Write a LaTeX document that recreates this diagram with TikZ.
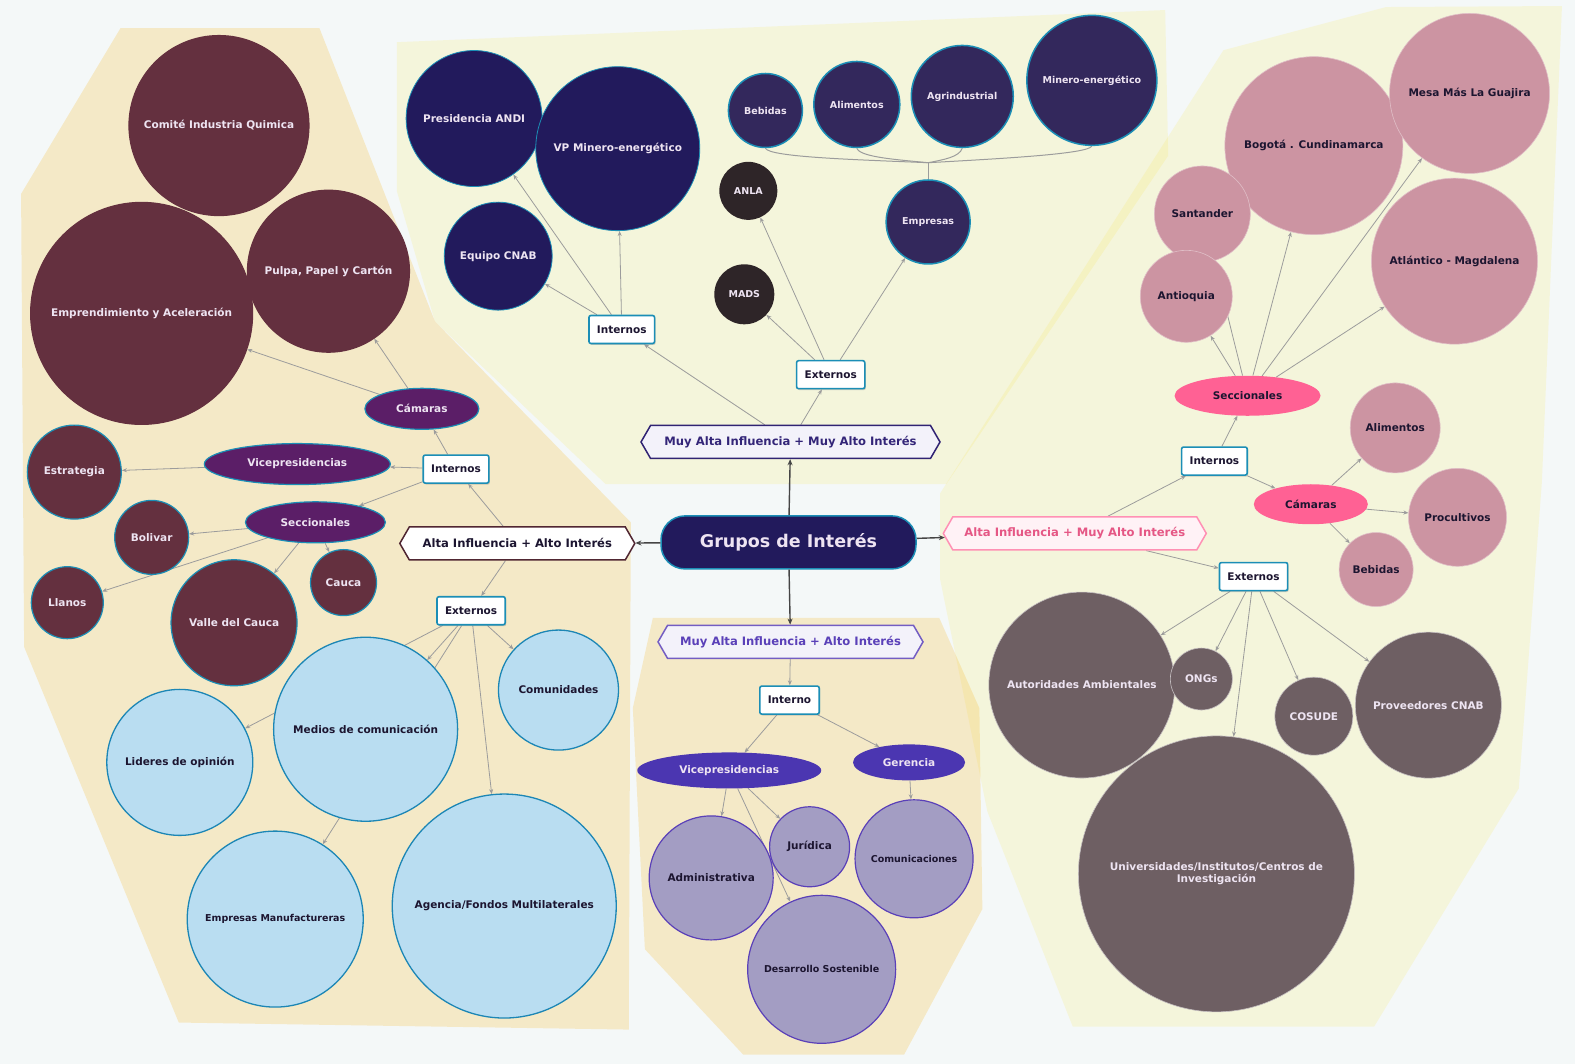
\documentclass[tikz,border=0pt]{standalone}
\usepackage{fontspec}
\setmainfont{DejaVu Sans}
\usetikzlibrary{arrows.meta,shapes.geometric,shapes.symbols,shadows,backgrounds}

\definecolor{bgc}{HTML}{F4F8F8}
\definecolor{sandp}{HTML}{FFF0CD}
\definecolor{creamp}{HTML}{FFFCE2}
\definecolor{navy}{HTML}{221A5C}
\definecolor{plum}{HTML}{33285C}
\definecolor{soot}{HTML}{2E2528}
\definecolor{wine}{HTML}{64303F}
\definecolor{grape}{HTML}{5B1E67}
\definecolor{sky}{HTML}{B9DDF1}
\definecolor{skyline}{HTML}{1C86B5}
\definecolor{lilac}{HTML}{A39DC3}
\definecolor{violetf}{HTML}{4B36B1}
\definecolor{violetl}{HTML}{5A40B8}
\definecolor{mauve}{HTML}{CC94A2}
\definecolor{rose}{HTML}{FF6194}
\definecolor{taupe}{HTML}{6E5F63}
\definecolor{tealb}{HTML}{1B8EB6}
\definecolor{linec}{HTML}{9C9C9C}
\definecolor{hubc}{HTML}{454545}
\definecolor{ink}{HTML}{1C1530}
\definecolor{paletxt}{HTML}{EEE4F2}

\pgfdeclarelayer{panels}
\pgfsetlayers{panels,background,main}

\tikzset{
  lbl/.style={font=\fontsize{10.5}{12.5}\selectfont\bfseries, align=center},
  slbl/.style={font=\fontsize{9.5}{11}\selectfont\bfseries, align=center},
  bub/.style={circle, inner sep=1pt, lbl},
  navyb/.style={bub, fill=navy, draw=tealb, line width=.8pt, text=paletxt},
  plumb/.style={bub, slbl, fill=plum, draw=tealb, line width=1.5pt, text=paletxt},
  sootb/.style={bub, slbl, fill=soot, text=paletxt},
  wineb/.style={bub, fill=wine, draw=tealb, line width=1.2pt, text=paletxt},
  skyb/.style={bub, fill=sky, draw=skyline, line width=1.3pt, text=ink},
  lilacb/.style={bub, fill=lilac, draw=violetl, line width=1.2pt, text=ink},
  mauveb/.style={bub, fill=mauve, draw=white!40!mauve, line width=.6pt, text=ink},
  taupeb/.style={bub, fill=taupe, draw=white!60!taupe, line width=.6pt, text=paletxt},
  oval/.style={ellipse, inner sep=0pt, lbl},
  tagbox/.style={rectangle, rounded corners=2pt, draw=tealb, line width=1.6pt, fill=white,
    lbl, text=ink, minimum height=28pt, inner xsep=8pt,
    drop shadow={shadow xshift=1pt, shadow yshift=-1.5pt, opacity=.35}},
  hexa/.style={signal, signal to=west and east, signal pointer angle=120, line width=1.5pt,
    minimum height=33pt, font=\fontsize{11.6}{13}\selectfont\bfseries},
  conn/.style={draw=linec, line width=.8pt, -{Stealth[length=5pt,width=4pt]}},
  hub/.style={draw=hubc, line width=1.4pt, -{Stealth[length=6pt,width=5pt]}},
  treel/.style={draw=linec, line width=1pt},
}

\begin{document}
\begin{tikzpicture}[x=1.0045pt,y=-1.0045pt]
  \useasboundingbox (0,0) rectangle (1568,1059);

  % panels behind everything
  \begin{pgfonlayer}{panels}
    \fill[bgc] (0,0) rectangle (1568,1059);
    \begin{scope}[blend mode=multiply]
      \fill[creamp] (395,42) -- (1160,10) -- (1163,155) -- (942,482) -- (603,482) -- (433,320) -- (395,190) -- cycle;
      \fill[creamp] (1218,50) -- (1380,7) -- (1555,6) -- (1535,480) -- (1512,785) -- (1368,1022)
        -- (1068,1022) -- (983,808) -- (936,577) -- (936,491) -- cycle;
      \fill[sandp] (120,28) -- (318,28) -- (433,320) -- (628,520) -- (626,1025) -- (178,1018)
        -- (24,644) -- (21,193) -- cycle;
      \fill[sandp] (650,615) -- (935,615) -- (975,705) -- (978,905) -- (900,1050) -- (740,1050)
        -- (642,945) -- (630,705) -- cycle;
    \end{scope}
  \end{pgfonlayer}

  % hub and the four quadrants
  \node[rectangle, rounded corners=24pt, fill=navy, draw=tealb, line width=1.5pt,
    minimum width=255pt, minimum height=53pt, text=paletxt,
    font=\fontsize{17.5}{20}\selectfont\bfseries] (grupos) at (785,540) {Grupos de Interés};
  \node[hexa, draw=navy!75!violetl, fill=white!93!violetl, text=navy!70!violetl, minimum width=299pt]
    (hexT) at (787,440) {Muy Alta Influencia + Muy Alto Interés};
  \node[hexa, draw=wine!80!black, fill=white, text=ink, minimum width=235pt]
    (hexL) at (515,541) {Alta Influencia + Alto Interés};
  \node[hexa, draw=rose!70!white, fill=rose!8!white, text=rose!90!black, minimum width=263pt]
    (hexR) at (1070,531) {Alta Influencia + Muy Alto Interés};
  \node[hexa, draw=violetl!85!white, fill=violetl!7!white, text=violetl, minimum width=265pt]
    (hexB) at (787,639) {Muy Alta Influencia + Alto Interés};

  \foreach \n/\x/\y/\t in {intT/619/328/Internos, extT/827/373/Externos, intL/454/467/Internos,
      extL/469/608/Externos, intR/1209/459/Internos, extR/1248/574/Externos, intB/786/697/Interno}
    \node[tagbox] (\n) at (\x,\y) {\t};

  % top
  \foreach \n/\x/\y/\d/\t in {pres/472/118/136/Presidencia ANDI, vpme/615/148/164/VP Minero-energético,
      cnab/496/255/108/Equipo CNAB}
    \node[navyb, minimum size=\d pt] (\n) at (\x,\y) {\t};
  \foreach \n/\x/\y/\d/\t in {bebT/762/110/74/Bebidas, aliT/853/104/86/Alimentos, agri/958/96/102/Agrindustrial,
      mine/1087/80/130/Minero-energético, empr/924/221/84/Empresas}
    \node[plumb, minimum size=\d pt] (\n) at (\x,\y) {\t};
  \node[sootb, minimum size=58pt] (anla) at (745,190) {ANLA};
  \node[sootb, minimum size=60pt] (mads) at (741,293) {MADS};
  \coordinate (jn) at (924,162);

  % left
  \node[wineb, draw=wine, minimum size=180pt] (comite) at (218,125) {Comité Industria Quimica};
  \node[wineb, draw=wine, minimum size=222pt] (empa) at (141,312) {Emprendimiento y Aceleración};
  \node[wineb, draw=wine, minimum size=162pt] (pulpa) at (327,270) {Pulpa, Papel y Cartón};
  \foreach \n/\x/\y/\d/\t in {estr/74/470/94/Estrategia, boli/151/535/74/Bolivar, llan/67/600/72/Llanos,
      valle/233/620/126/Valle del Cauca, cauca/342/580/66/Cauca}
    \node[wineb, minimum size=\d pt] (\n) at (\x,\y) {\t};
  \foreach \n/\x/\y/\w/\t in {camL/420/407/114/Cámaras, vpL/296/462/186/Vicepresidencias,
      secL/314/520/140/Seccionales}
    \node[oval, fill=grape, draw=tealb, line width=1.2pt, text=paletxt,
      minimum width=\w pt, minimum height=41pt] (\n) at (\x,\y) {\t};
  \foreach \n/\x/\y/\d/\t in {medios/364/726/184/Medios de comunicación, lider/179/759/146/Lideres de opinión,
      comun/556/687/120/Comunidades, agencia/502/902/224/{Agencia/Fondos Multilaterales}}
    \node[skyb, minimum size=\d pt] (\n) at (\x,\y) {\t};
  \node[skyb, slbl, minimum size=176pt] (manuf) at (274,915) {Empresas Manufactureras};

  % bottom
  \node[oval, fill=violetf, text=paletxt, minimum width=184pt, minimum height=36pt] (vpB) at (726,767) {Vicepresidencias};
  \node[oval, fill=violetf, text=paletxt, minimum width=112pt, minimum height=36pt] (ger) at (905,759) {Gerencia};
  \node[lilacb, minimum size=124pt] (admin) at (708,874) {Administrativa};
  \node[lilacb, minimum size=80pt] (juri) at (806,843) {Jurídica};
  \node[lilacb, slbl, minimum size=148pt] (desa) at (818,965) {Desarrollo Sostenible};
  \node[lilacb, slbl, minimum size=118pt] (comu) at (910,855) {Comunicaciones};

  % right
  \node[oval, fill=rose, text=ink, minimum width=146pt, minimum height=40pt] (secR) at (1242,394) {Seccionales};
  \node[oval, fill=rose, text=ink, minimum width=114pt, minimum height=40pt] (camR) at (1305,502) {Cámaras};
  \foreach \n/\x/\y/\d/\t in {bogo/1308/145/178/Bogotá . Cundinamarca, mesa/1463/93/160/Mesa Más La Guajira,
      sant/1197/213/96/Santander, anti/1181/295/92/Antioquia, atla/1448/260/166/Atlántico - Magdalena,
      aliR/1389/426/90/Alimentos, proc/1451/515/98/Procultivos, bebR/1370/567/74/Bebidas}
    \node[mauveb, minimum size=\d pt] (\n) at (\x,\y) {\t};
  \foreach \n/\x/\y/\d/\t in {auto/1077/682/186/Autoridades Ambientales, ongs/1196/676/62/ONGs,
      cosu/1308/713/78/COSUDE, prov/1422/702/146/Proveedores CNAB}
    \node[taupeb, minimum size=\d pt] (\n) at (\x,\y) {\t};
  \node[taupeb, minimum size=276pt] (univ) at (1211,870) {Universidades/Institutos/Centros de\\Investigación};

  % connectors
  \begin{pgfonlayer}{background}
    \foreach \a/\b in {hexT/intT, hexT/extT, intT/pres, intT/vpme, intT/cnab, extT/mads, extT/anla, extT/empr,
        hexL/intL, hexL/extL, intL/camL, intL/vpL, intL/secL, camL/empa, camL/pulpa, vpL/estr,
        secL/boli, secL/llan, secL/valle, secL/cauca,
        extL/lider, extL/medios, extL/manuf, extL/agencia, extL/comun,
        hexB/intB, intB/vpB, intB/ger, vpB/admin, vpB/juri, vpB/desa, ger/comu,
        hexR/intR, hexR/extR, intR/secR, intR/camR,
        secR/anti, secR/sant, secR/bogo, secR/mesa, secR/atla, camR/aliR, camR/proc, camR/bebR,
        extR/auto, extR/ongs, extR/univ, extR/cosu, extR/prov}
      \draw[conn] (\a) -- (\b);
    \draw[treel] (bebT.south) .. controls +(4,9) and +(-70,-3) .. (jn);
    \draw[treel] (aliT.south) .. controls +(3,9) and +(-30,-3) .. (jn);
    \draw[treel] (agri.south) .. controls +(-3,9) and +(15,-3) .. (jn);
    \draw[treel] (mine.south) .. controls +(-4,8) and +(70,-4) .. (jn);
    \draw[treel] (jn) -- (empr);
  \end{pgfonlayer}
  \foreach \h in {hexT, hexL, hexR, hexB}
    \draw[hub] (grupos) -- (\h);
\end{tikzpicture}
\end{document}
